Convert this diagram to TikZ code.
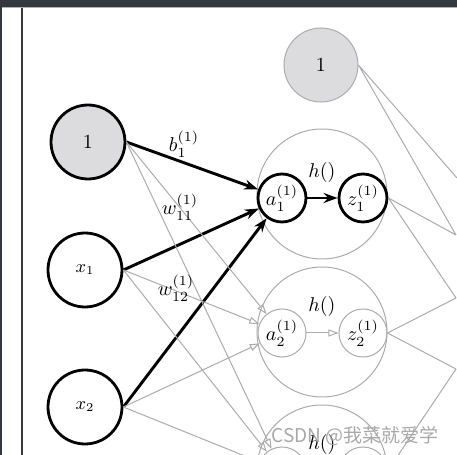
\documentclass[tikz,border=0pt]{standalone}
\usepackage{fontspec}
\newfontfamily\cjkfont{Noto Sans CJK SC}
\usetikzlibrary{arrows.meta,positioning}

\definecolor{barcol}{RGB}{52,57,62}
\definecolor{biasfill}{RGB}{220,220,222}
\definecolor{faintcol}{RGB}{172,172,175}

\begin{document}
\begin{tikzpicture}
      [x=0.5pt, y=-0.5pt,
      input/.style={circle, draw, line width=1.4pt, minimum size=37pt, inner sep=0pt},
      bias/.style={input, fill=biasfill},
      group/.style={circle, draw=faintcol, line width=0.5pt, minimum size=65pt},
      neuron/.style={circle, draw, line width=1.4pt, minimum size=24pt, inner sep=0pt},
      ghost/.style={neuron, draw=faintcol, line width=0.5pt},
      strong/.style={line width=1.45pt, -{Stealth[length=7pt, width=5pt]}},
      faint/.style={draw=faintcol, line width=0.5pt, -{Triangle[open, length=5pt, width=3.5pt]}},
      ]
      % screenshot frame
      \useasboundingbox (0,0) rectangle (457,455);
      \fill[white] (0,0) rectangle (457,455);
      \fill[barcol] (0,0) rectangle (457,7);
      \fill[barcol] (0,0) rectangle (2,455);
      \fill[gray!60] (2,7) rectangle (457,8.5);
      \draw[barcol, line width=1pt] (22,8) -- (22,455);

      \node[bias] (b0) at (88,142) {$1$};
      \node[input] (x1) at (85,270) {\small $x_1$};
      \node[input] (x2) at (85,407) {\small $x_2$};
      \node[bias, draw=faintcol, line width=0.5pt] (b1) at (321,65) {$1$};

      \node[group] (g1) at (322,194) {};
      \node[group] (g2) at (322,332) {};
      \node[group] (g3) at (322,470) {};
      \node (h1) at (322,172) {$h()$};
      \node (h2) at (322,307) {$h()$};
      \node (h3) at (322,445) {$h()$};

      \node[neuron] (a1) at (282,198) {$a_1^{(1)}$};
      \node[neuron] (z1) at (363,198) {$z_1^{(1)}$};
      \node[ghost] (a2) at (282,333) {$a_2^{(1)}$};
      \node[ghost] (z2) at (363,333) {$z_2^{(1)}$};
      \node[ghost] (a3) at (282,471) {};
      \node[ghost] (z3) at (363,471) {};

      \draw[strong] (b0.east) -- (a1);
      \draw[strong] (x1.east) -- (a1);
      \draw[strong] (x2.east) -- (a1);
      \draw[strong] (a1) -- (z1);
      \foreach \s in {b0, x1, x2} {
        \draw[faint] (\s.east) -- (a2);
        \draw[faint] (\s.east) -- (a3);
      }
      \draw[faint] (a2) -- (z2);

      \node at (184,144) {$b_1^{(1)}$};
      \node at (180,207) {$w_{11}^{(1)}$};
      \node at (176,288) {$w_{12}^{(1)}$};

      % towards the next layer (cut off)
      \coordinate (r0) at (457,178);
      \coordinate (r1) at (456,235);
      \coordinate (r2) at (456,298);
      \coordinate (r3) at (456,369);
      \draw[faintcol, line width=0.5pt] (b1.east) -- (r0) (b1.east) -- (r1)
        (z1.east) -- (r1) (z1.east) -- (r2) (z2.east) -- (r2)
        (z2.east) -- (r3) (z3.east) -- (r3);

      \node[text=gray!75, opacity=0.9] (wm) at (355,436) {\cjkfont\fontsize{9.5}{11}\selectfont CSDN @我菜就爱学};
    \end{tikzpicture}
\end{document}
